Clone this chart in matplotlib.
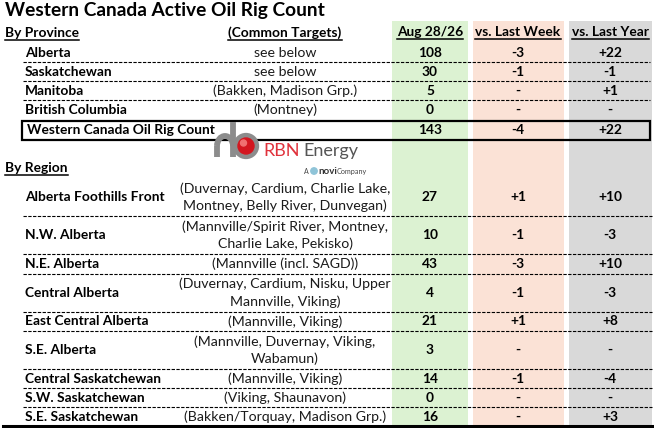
import matplotlib
matplotlib.use('Agg')
import matplotlib.pyplot as plt
from matplotlib.patches import Rectangle, Circle, Arc

plt.rcParams['font.family'] = ['Lato', 'DejaVu Sans']

title = 'Western Canada Active Oil Rig Count'
col_headers = ['Aug 28/26', 'vs. Last Week', 'vs. Last Year']

prov_names = ['Alberta', 'Saskatchewan', 'Manitoba', 'British Columbia']
prov_targets = ['see below', 'see below', '(Bakken, Madison Grp.)', '(Montney)']
prov_count = ['108', '30', '5', '0']
prov_week = ['-3', '-1', '-', '-']
prov_year = ['+22', '-1', '+1', '-']

total_name = 'Western Canada Oil Rig Count'
total_vals = ['143', '-4', '+22']

reg_names = ['Alberta Foothills Front', 'N.W. Alberta', 'N.E. Alberta', 'Central Alberta',
             'East Central Alberta', 'S.E. Alberta', 'Central Saskatchewan',
             'S.W. Saskatchewan', 'S.E. Saskatchewan']
reg_targets = ['(Duvernay, Cardium, Charlie Lake,\nMontney, Belly River, Dunvegan)',
               '(Mannville/Spirit River, Montney,\nCharlie Lake, Pekisko)',
               '(Mannville (incl. SAGD))',
               '(Duvernay, Cardium, Nisku, Upper\nMannville, Viking)',
               '(Mannville, Viking)',
               '(Mannville, Duvernay, Viking,\nWabamun)',
               '(Mannville, Viking)',
               '(Viking, Shaunavon)',
               '(Bakken/Torquay, Madison Grp.)']
reg_count = ['27', '10', '43', '4', '21', '3', '14', '0', '16']
reg_week = ['+1', '-1', '-3', '-1', '+1', '-', '-1', '-', '-']
reg_year = ['+10', '-3', '+10', '-3', '+8', '-', '-4', '-', '+3']

W, H = 654, 428
fig = plt.figure(figsize=(W / 100, H / 100), dpi=100)
ax = fig.add_axes([0, 0, 1, 1])
ax.set_xlim(0, W)
ax.set_ylim(H, 0)
ax.axis('off')

fs = 10.2     # normal text
fb = 9.9      # bold text
col_x = [430, 518, 610]
col_span = [(392, 468), (473, 564), (569, 652)]
col_colors = ['#dcf2d2', '#fbe2d6', '#d9d9d9']
name_x = 25
target_x = 285
line_h = 19.1

# column backgrounds
for (x0, x1), c in zip(col_span, col_colors):
    ax.add_patch(Rectangle((x0, 21), x1 - x0, 426 - 21, color=c, lw=0, zorder=0))

underlined = []

ax.text(5, 10, title, fontsize=13.8, fontweight='bold', va='center', ha='left')
underlined.append(ax.text(5, 33, 'By Province', fontsize=fb, fontweight='bold', va='center'))
underlined.append(ax.text(target_x, 33, '(Common Targets)', fontsize=fb, fontweight='bold',
                          va='center', ha='center'))
for x, h in zip(col_x, col_headers):
    underlined.append(ax.text(x, 32, h, fontsize=fb, fontweight='bold', va='center', ha='center'))


def dash(y, x0=23, x1=652):
    ax.plot([x0, x1], [y, y], color='black', lw=0.8, ls=(0, (3, 1.3)), zorder=3)


# province rows
top = 43
for i in range(len(prov_names)):
    yc = top + line_h * i + line_h / 2
    ax.text(name_x, yc, prov_names[i], fontsize=fb, fontweight='bold', va='center')
    ax.text(target_x, yc, prov_targets[i], fontsize=fs, va='center', ha='center', color='#1b1b1b')
    for x, v in zip(col_x, [prov_count[i], prov_week[i], prov_year[i]]):
        ax.text(x, yc, v, fontsize=fb, fontweight='bold', va='center', ha='center')
    if i < len(prov_names) - 1:
        dash(top + line_h * (i + 1), 23, 650)

# total row box
ax.add_patch(Rectangle((22, 120.5), 628, 19.5, fill=False, ec='black', lw=1.6, zorder=4))
ax.text(name_x + 2, 130, total_name, fontsize=fb, fontweight='bold', va='center')
for x, v in zip(col_x, total_vals):
    ax.text(x, 130, v, fontsize=fb, fontweight='bold', va='center', ha='center')

# logo
gray = '#8c8c8c'
ax.plot([233, 233], [122, 157], color=gray, lw=4.2, solid_capstyle='butt', zorder=5)
ax.add_patch(Arc((225, 146), 16, 20, theta1=180, theta2=360, color=gray, lw=4.2, zorder=5))
ax.plot([217, 217], [146, 157], color=gray, lw=4.2, solid_capstyle='butt', zorder=5)
ax.add_patch(Circle((246, 146), 10.5, fill=False, ec=gray, lw=3.8, zorder=5))
ax.add_patch(Circle((246, 146), 8, color='#d3161f', zorder=6))
ax.add_patch(Circle((243.5, 143), 3, color='#f07070', zorder=7))
ax.text(263, 151, 'RBN', fontsize=13, color='#e0323c', va='center', ha='left', zorder=6)
ax.text(303, 151, 'Energy', fontsize=13, color='#555555', va='center', ha='left', zorder=6)
ax.text(304, 171, 'A', fontsize=5, color='#444444', va='center', ha='left')
ax.add_patch(Circle((314, 171), 3.2, color='#8fc4d8', zorder=5))
ax.text(318, 171, 'novi', fontsize=7, fontweight='bold', color='#333333', va='center', ha='left')
ax.text(337, 171.5, 'Company', fontsize=5.2, color='#444444', va='center', ha='left')

underlined.append(ax.text(5, 168, 'By Region', fontsize=fb, fontweight='bold', va='center'))

# region rows
y = 178
for i in range(len(reg_names)):
    n = reg_targets[i].count('\n') + 1
    yc = y + n * line_h / 2
    ax.text(name_x, yc, reg_names[i], fontsize=fb, fontweight='bold', va='center')
    ax.text(target_x, yc, reg_targets[i], fontsize=fs, va='center', ha='center',
            linespacing=1.45, color='#1b1b1b')
    for x, v in zip(col_x, [reg_count[i], reg_week[i], reg_year[i]]):
        ax.text(x, yc, v, fontsize=fb, fontweight='bold', va='center', ha='center')
    y += n * line_h
    if i < len(reg_names) - 1:
        dash(y)
ax.plot([3, 652], [425.5, 425.5], color='black', lw=2.2, zorder=4)

# underlines
fig.canvas.draw()
r = fig.canvas.get_renderer()
inv = ax.transData.inverted()
for t in underlined:
    bb = t.get_window_extent(r)
    (x0, _), (x1, y1) = inv.transform([(bb.x0, bb.y0), (bb.x1, bb.y0)])
    ax.plot([x0, x1], [y1 + 0.5, y1 + 0.5], color='black', lw=1.1, zorder=4)

fig.savefig('out.png', dpi=100)
